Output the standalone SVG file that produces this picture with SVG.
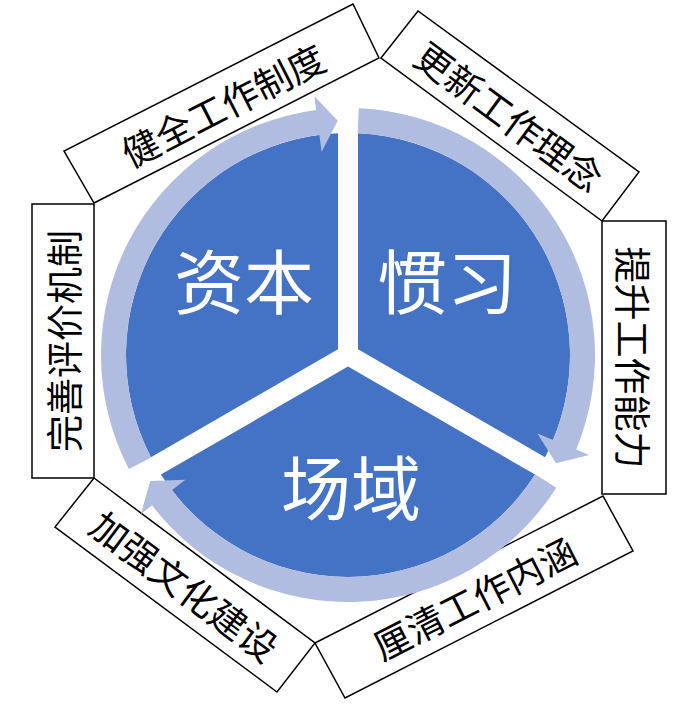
<svg xmlns="http://www.w3.org/2000/svg" width="700" height="710" viewBox="0 0 700 710">
<style>
.sector{fill:#4472C4}
.big{font-family:"Noto Sans CJK SC","Noto Sans",sans-serif;font-size:70px;fill:#FFFFFF;text-anchor:middle;dominant-baseline:central}
.arrow{fill:#B0BDE1}
.box{fill:#FFFFFF;stroke:#000000;stroke-width:1.5;stroke-linejoin:miter}
.lbl{font-family:"Noto Sans CJK SC","Noto Sans",sans-serif;font-size:37px;fill:#000000;text-anchor:middle;dominant-baseline:central}
</style>
<rect x="0" y="0" width="700" height="710" fill="#FFFFFF"/>

<g id="box-jianquan">
<polygon class="box" points="94,203 379,58 353,4 64,151"/>
<text class="lbl" transform="translate(222.5,104) rotate(-27)">健全工作制度</text>
</g>
<g id="box-gengxin">
<polygon class="box" points="381,58 418,11 639,172 602,221"/>
<text class="lbl" transform="translate(510,115.5) rotate(36.4)">更新工作理念</text>
</g>
<g id="box-tisheng">
<polygon class="box" points="602,221 666,221 666,494 602,494"/>
<text class="lbl" transform="translate(634,357.5) rotate(90)">提升工作能力</text>
</g>
<g id="box-liqing">
<polygon class="box" points="315,643 603,496 633,551 345,698"/>
<text class="lbl" transform="translate(474,597) rotate(-27)">厘清工作内涵</text>
</g>
<g id="box-jiaqiang">
<polygon class="box" points="94,478 315,643 277,692 55,527"/>
<text class="lbl" transform="translate(185.25,585) rotate(36.7)">加强文化建设</text>
</g>
<g id="box-wanshan">
<polygon class="box" points="32,204 94,204 94,478 32,478"/>
<text class="lbl" transform="translate(63,341) rotate(-90)">完善评价机制</text>
</g>

<g id="sector-ziben">
<path class="sector" d="M338,133.23 L338,349.23 L150.94,457.23 A222,222 0 0 1 338,133.23 Z"/>
<text class="big" x="244" y="278">资本</text>
</g>
<g id="sector-guanxi">
<path class="sector" d="M358,133.23 A222,222 0 0 1 545.06,457.23 L358,349.23 Z"/>
<text class="big" x="447" y="278">惯习</text>
</g>
<g id="sector-changyu">
<path class="sector" d="M348,366.55 L535.06,474.55 A222,222 0 0 1 160.94,474.55 Z"/>
<text class="big" x="351" y="484">场域</text>
</g>

<g id="connectors">
<path class="arrow" d="M128.91,469.05 A247,247 0 0 1 316.19,110.06 L314.38,96.17 L337.77,120.72 L321.60,151.71 L319.41,134.85 A222,222 0 0 0 151.08,457.51 Z"/>
<path class="arrow" d="M358.77,108.23 A247,247 0 0 1 576.20,449.52 L589.13,454.88 L556.00,463.28 L537.40,433.45 L553.10,439.96 A222,222 0 0 0 357.68,133.21 Z"/>
<path class="arrow" d="M556.32,487.71 A247,247 0 0 1 152.04,505.36 L140.94,513.89 L150.23,481.00 L185.36,479.80 L171.88,490.14 A222,222 0 0 0 535.23,474.28 Z"/>
</g>
</svg>
